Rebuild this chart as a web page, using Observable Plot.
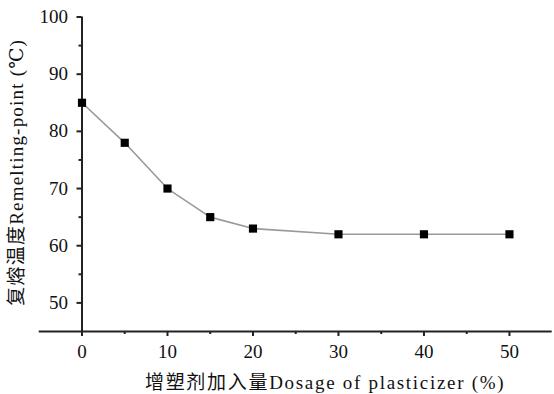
<!DOCTYPE html>
<html><head><meta charset="utf-8">
<script src="https://cdn.jsdelivr.net/npm/d3@7"></script>
<script src="https://cdn.jsdelivr.net/npm/@observablehq/plot@0.6"></script>
<style>
body{margin:0;background:#fff;}
svg, svg text{font-family:"Liberation Serif","Times New Roman",Times,"DejaVu Serif",serif,"Noto Sans CJK SC" !important;}
</style></head><body><div id="chart"></div>
<script>
const dosage = [0, 5, 10, 15, 20, 30, 40, 50];
const remelting = [85, 78, 70, 65, 63, 62, 62, 62];
const xMajor = [0, 10, 20, 30, 40, 50];
const xMinor = [5, 15, 25, 35, 45];
const yMajor = [50, 60, 70, 80, 90, 100];
const yMinor = [55, 65, 75, 85, 95];
const xTitle = "增塑剂加入量Dosage of plasticizer (%)";
const yTitle = "复熔温度Remelting-point (℃)";

const data = dosage.map((d, i) => ({x: d, y: remelting[i]}));
const axisColor = "#222";

const chart = Plot.plot({
  width: 554, height: 394,
  marginLeft: 81.5, marginRight: 2.3, marginTop: 16.5, marginBottom: 63,
  style: {background: "#fff"},
  x: {domain: [0, 55]},
  y: {domain: [45, 100]},
  marks: [
    Plot.axisX({ticks: xMajor, tickSize: 5, tickPadding: 8, fontSize: 19, stroke: axisColor, strokeWidth: 2, color: "#111", label: null, tickFormat: d => String(d)}),
    Plot.axisX({ticks: xMinor, tickSize: 3, text: null, stroke: axisColor, strokeWidth: 2, label: null}),
    Plot.axisY({ticks: yMajor, tickSize: 5, tickPadding: 9, fontSize: 19, stroke: axisColor, strokeWidth: 2, color: "#111", label: null, tickFormat: d => String(d)}),
    Plot.axisY({ticks: yMinor, tickSize: 3, text: null, stroke: axisColor, strokeWidth: 2, label: null}),
    Plot.ruleY([45], {x1: -5, x2: 55, stroke: axisColor, strokeWidth: 2}),
    Plot.ruleX([0], {y1: 45, y2: 100, stroke: axisColor, strokeWidth: 2}),
    Plot.line(data, {x: "x", y: "y", stroke: "#999", strokeWidth: 1.6}),
    Plot.dot(data, {x: "x", y: "y", symbol: "square", r: 4.6, fill: "#000", stroke: "none"}),
    Plot.text([xTitle], {frameAnchor: "bottom", dx: 8, dy: 51, fontSize: 19, fill: "#111", textAnchor: "middle", lineAnchor: "middle"}),
    Plot.text([yTitle], {frameAnchor: "left", dx: -65, dy: -2, rotate: -90, fontSize: 19, fill: "#111", textAnchor: "middle", lineAnchor: "middle"})
  ]
});
chart.querySelectorAll("text").forEach(t => {
  if (t.textContent === xTitle) t.style.letterSpacing = "1.7px";
  if (t.textContent === yTitle) t.style.letterSpacing = "1.2px";
});
document.getElementById("chart").appendChild(chart);
</script></body></html>
